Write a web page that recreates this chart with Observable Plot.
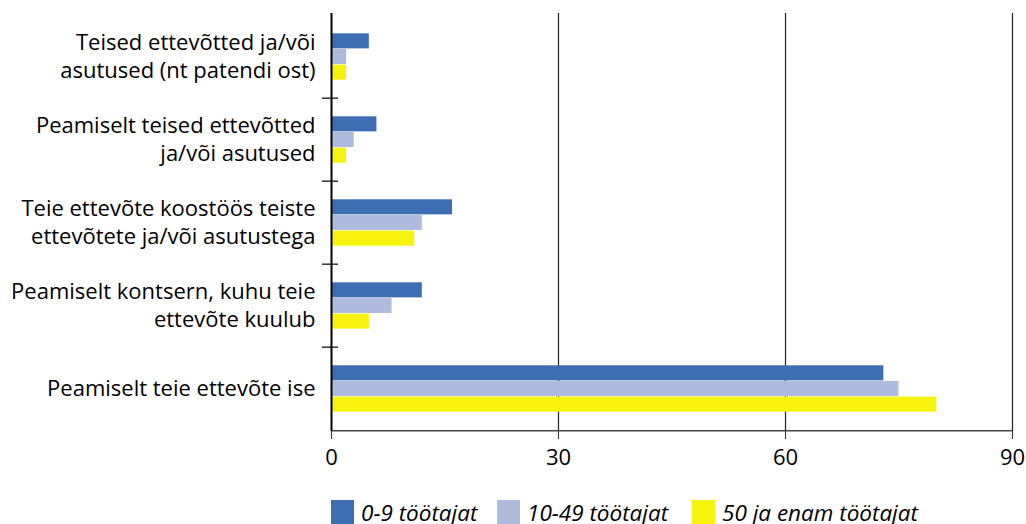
<!DOCTYPE html>
<html><head><meta charset="utf-8">
<script src="https://cdn.jsdelivr.net/npm/d3@7"></script>
<script src="https://cdn.jsdelivr.net/npm/@observablehq/plot@0.6"></script>
<style>
body{margin:0;background:#fff;font-family:"Open Sans",sans-serif;}
#legend{display:flex;align-items:center;margin-left:331px;margin-top:20px;height:24px;font-style:italic;font-size:22.5px;color:#000;white-space:nowrap;}
#legend .item{display:flex;align-items:center;flex:none;}
#legend .sw{display:inline-block;width:23px;height:24px;margin-right:7px;flex:none;}
</style></head><body><div id="chart"></div><div id="legend"></div>
<script>
const categories = [
  "Teised ettevõtted ja/või asutused (nt patendi ost)",
  "Peamiselt teised ettevõtted ja/või asutused",
  "Teie ettevõte koostöös teiste ettevõtete ja/või asutustega",
  "Peamiselt kontsern, kuhu teie ettevõte kuulub",
  "Peamiselt teie ettevõte ise"
];
const categoryLabels = [
  "Teised ettevõtted ja/või\nasutused (nt patendi ost)",
  "Peamiselt teised ettevõtted\nja/või asutused",
  "Teie ettevõte koostöös teiste\nettevõtete ja/või asutustega",
  "Peamiselt kontsern, kuhu teie\nettevõte kuulub",
  "Peamiselt teie ettevõte ise"
];
const series = ["0-9 töötajat", "10-49 töötajat", "50 ja enam töötajat"];
const values0to9 = [5, 6, 16, 12, 73];
const values10to49 = [2, 3, 12, 8, 75];
const values50plus = [2, 2, 11, 5, 80];
const xTicks = [0, 30, 60, 90];
const colors = ["#3d6eb3", "#aebbdc", "#f7f30e"];
const legendItemWidths = [166, 195, null];

const seriesValues = [values0to9, values10to49, values50plus];
const rows = [];
series.forEach((s, si) => categories.forEach((c, ci) => rows.push({category: c, series: s, value: seriesValues[si][ci]})));

const W = 1026, H = 480, mT = 13, mB = 49, mL = 331, mR = 14;
const bw = (H - mT - mB) / categories.length;
const groupH = 47;
const bh = groupH / series.length;
const off = (bw - groupH) / 2;

const barMarks = series.map((s, si) => Plot.barX(rows.filter(d => d.series === s), {
  x: "value", y: "category", fill: colors[si],
  insetTop: off + si * bh, insetBottom: bw - off - (si + 1) * bh
}));

const chart = Plot.plot({
  width: W, height: H,
  marginTop: mT, marginBottom: mB, marginLeft: mL, marginRight: mR,
  style: {fontFamily: "Open Sans", fontSize: "22px", color: "#000", background: "#fff"},
  x: {domain: [0, 90], label: null},
  y: {domain: categories, padding: 0, label: null},
  marks: [
    Plot.ruleX(xTicks.slice(1), {stroke: "#222", strokeWidth: 1.2}),
    ...barMarks,
    Plot.ruleY([categories[categories.length - 1]], {dy: bw / 2, stroke: "#444", strokeWidth: 1.5}),
    Plot.ruleY(categories.slice(1), {dy: -bw / 2, x1: 0, x2: 0, insetLeft: -9, insetRight: -7, stroke: "#333", strokeWidth: 1.5}),
    Plot.ruleX([0], {stroke: "#000", strokeWidth: 2}),
    Plot.axisX({ticks: xTicks, tickSize: 8, tickPadding: 10, fontSize: 22, stroke: "#333", fill: "#000", label: null}),
    Plot.axisY({tickSize: 0, tickPadding: 16, fontSize: 22, lineHeight: 1.25, dy: -2, fill: "#000", label: null, tickFormat: d => categoryLabels[categories.indexOf(d)]})
  ]
});
document.getElementById("chart").appendChild(chart);

const legend = document.getElementById("legend");
series.forEach((s, i) => {
  const item = document.createElement("span"); item.className = "item";
  if (legendItemWidths[i]) item.style.width = legendItemWidths[i] + "px";
  const sw = document.createElement("span"); sw.className = "sw"; sw.style.background = colors[i];
  const lb = document.createElement("span"); lb.textContent = s;
  item.appendChild(sw); item.appendChild(lb);
  legend.appendChild(item);
});
</script></body></html>
